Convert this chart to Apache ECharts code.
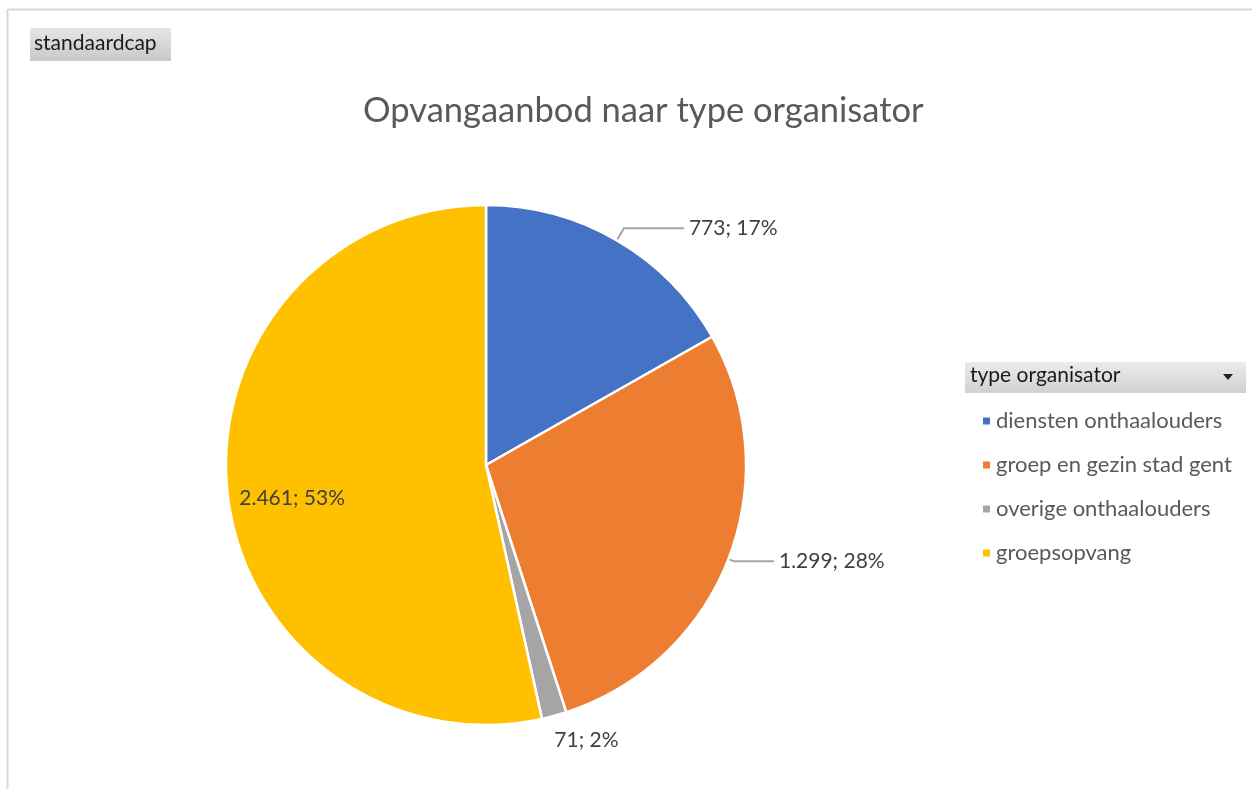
<!DOCTYPE html>
<html>
<head>
<meta charset="utf-8">
<script src="https://cdn.jsdelivr.net/npm/echarts@6/dist/echarts.min.js"></script>
<style>
html,body{margin:0;padding:0;background:#fff;}
#main{width:1252px;height:789px;}
</style>
</head>
<body>
<div id="main"></div>
<script>
var categories = ['diensten onthaalouders', 'groep en gezin stad gent', 'overige onthaalouders', 'groepsopvang'];
var values = [773, 1299, 71, 2461];
var colors = ['#4472C4', '#ED7D31', '#A5A5A5', '#FFC000'];

var fontFam = 'Lato, "Open Sans", sans-serif';
var total = values.reduce(function(a, b){ return a + b; }, 0);

function fmt(v) {
    return String(v).replace(/\B(?=(\d{3})+(?!\d))/g, '.');
}
function labelText(params) {
    return fmt(params.value) + '; ' + Math.round(params.value / total * 100) + '%';
}

var pieData = categories.map(function(name, i){
    var d = {name: name, value: values[i], itemStyle: {color: colors[i]}};
    if (i == 0) {
        d.labelLine = {length: 14, length2: 60};
    }
    if (i == 1) {
        d.labelLine = {length: 6, length2: 40};
    }
    if (i == 2) {
        d.labelLine = {show: false, length: 27, length2: 0};
    }
    if (i == 3) {
        d.label = {show: false};
        d.labelLine = {show: false};
    }
    return d;
});

// overlay ring used only to place the inner label near the edge
var innerData = categories.map(function(name, i){
    return {
        name: name, value: values[i],
        itemStyle: {color: 'rgba(0,0,0,0)'},
        label: {show: i == 3}
    };
});

var option = {
    animation: false,
    color: colors,
    title: {
        text: 'Opvangaanbod naar type organisator',
        left: 358,
        top: 88,
        textStyle: {
            color: '#595959',
            fontFamily: fontFam,
            fontSize: 34.5,
            fontWeight: 'normal'
        }
    },
    legend: {
        orient: 'vertical',
        left: 976,
        top: 405,
        icon: 'rect',
        itemWidth: 9,
        itemHeight: 9,
        itemGap: 22,
        data: categories,
        textStyle: {
            color: '#595959',
            fontFamily: fontFam,
            fontSize: 22,
            padding: [0, 0, 0, 0]
        }
    },
    graphic: [
        {type: 'line', shape: {x1: 8, y1: 9.5, x2: 1252, y2: 9.5}, style: {stroke: '#d9d9d9', lineWidth: 2}},
        {type: 'line', shape: {x1: 7.5, y1: 9, x2: 7.5, y2: 789}, style: {stroke: '#d9d9d9', lineWidth: 2}},
        {
            type: 'rect', shape: {x: 30, y: 28, width: 141, height: 33},
            style: {
                fill: new echarts.graphic.LinearGradient(0, 0, 0, 1, [
                    {offset: 0, color: '#e6e6e6'}, {offset: 1, color: '#c8c8c8'}
                ])
            }
        },
        {
            type: 'text', left: 34, top: 33,
            style: {text: 'standaardcap', fill: '#1a1a1a', font: '21px ' + fontFam}
        },
        {
            type: 'rect', shape: {x: 965, y: 362, width: 281, height: 31},
            style: {
                fill: new echarts.graphic.LinearGradient(0, 0, 0, 1, [
                    {offset: 0, color: '#ececec'}, {offset: 1, color: '#d0d0d0'}
                ])
            }
        },
        {
            type: 'text', left: 970, top: 365,
            style: {text: 'type organisator', fill: '#1a1a1a', font: '21px ' + fontFam}
        },
        {
            type: 'polygon', shape: {points: [[1223, 374], [1233, 374], [1228, 380]]},
            style: {fill: '#222'}
        }
    ],
    series: [
        {
            type: 'pie',
            center: [486, 465],
            radius: [0, 260],
            startAngle: 90,
            clockwise: true,
            silent: true,
            itemStyle: {borderColor: '#fff', borderWidth: 2.5},
            label: {
                show: true,
                position: 'outside',
                formatter: labelText,
                color: '#404040',
                fontFamily: fontFam,
                fontSize: 21
            },
            labelLine: {
                show: true,
                length: 6,
                length2: 50,
                smooth: false,
                lineStyle: {color: '#a6a6a6', width: 2}
            },
            labelLayout: function(params){
                if (params.dataIndex == 2) return {dx: -12, dy: -2};
                return {};
            },
            data: pieData
        },
        {
            type: 'pie',
            center: [486, 465],
            radius: [130, 262],
            startAngle: 90,
            clockwise: true,
            silent: true,
            label: {
                show: false,
                position: 'inside',
                formatter: labelText,
                color: '#404040',
                fontFamily: fontFam,
                fontSize: 21
            },
            labelLine: {show: false},
            labelLayout: {dx: 4, dy: 12},
            data: innerData
        }
    ]
};

var chart = echarts.init(document.getElementById('main'));
chart.setOption(option, true);
</script>
</body>
</html>
